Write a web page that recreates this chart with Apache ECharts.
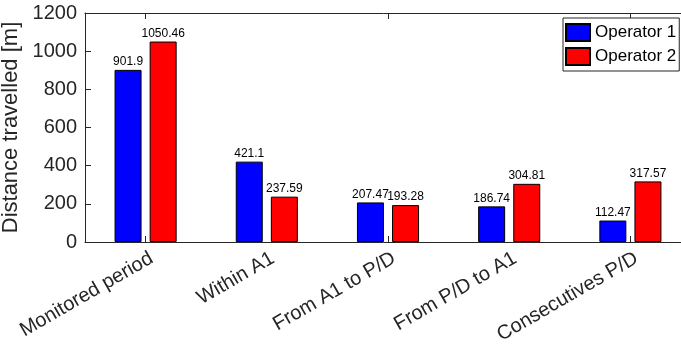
<!DOCTYPE html>
<html>
<head>
<meta charset="utf-8">
<script src="https://cdn.jsdelivr.net/npm/echarts@6/dist/echarts.min.js"></script>
<style>
html,body{margin:0;padding:0;background:#fff;}
#c{width:681px;height:347px;}
</style>
</head>
<body>
<div id="c"></div>
<script>
const categories = ['Monitored period', 'Within A1', 'From A1 to P/D', 'From P/D to A1', 'Consecutives P/D'];
const operator1 = [901.9, 421.1, 207.47, 186.74, 112.47];
const operator2 = [1050.46, 237.59, 193.28, 304.81, 317.57];
const seriesNames = ['Operator 1', 'Operator 2'];
const yTicks = { min: 0, max: 1200, interval: 200 };
const yTitle = 'Distance travelled [m]';

const FONT = 'Liberation Sans, Arial, Helvetica, sans-serif';
const AX = '#262626';

const chart = echarts.init(document.getElementById('c'), null, { renderer: 'canvas' });
chart.setOption({
  animation: false,
  backgroundColor: '#fff',
  textStyle: { fontFamily: FONT },
  grid: [
    { left: 85, top: 13, width: 606, height: 229, containLabel: false, outerBoundsMode: 'none' },
    { left: 91, top: 13, width: 606, height: 229, containLabel: false, outerBoundsMode: 'none' }
  ],
  legend: {
    data: seriesNames,
    orient: 'vertical',
    left: 563, top: 18,
    itemWidth: 24, itemHeight: 17, itemGap: 5,
    padding: [5, 3, 5, 2],
    borderColor: AX, borderWidth: 1,
    backgroundColor: '#fff',
    icon: 'rect',
    textStyle: { fontSize: 17, color: '#000', fontFamily: FONT }
  },
  xAxis: [
    {
      type: 'category', data: categories, gridIndex: 0,
      axisLine: { show: true, lineStyle: { color: AX, width: 1 } },
      axisTick: { show: true, inside: true, length: 6, alignWithLabel: true, lineStyle: { color: AX } },
      axisLabel: { show: false },
      splitLine: { show: false }
    },
    {
      type: 'category', data: categories, gridIndex: 1,
      axisLine: { show: false },
      axisTick: { show: false },
      axisLabel: { show: true, rotate: 30, margin: 15, interval: 0, fontSize: 20, color: AX, fontFamily: FONT, hideOverlap: false },
      splitLine: { show: false }
    },
    {
      type: 'category', data: categories, gridIndex: 0, position: 'top',
      axisLine: { show: true, lineStyle: { color: AX, width: 1 } },
      axisTick: { show: true, inside: true, length: 6, alignWithLabel: true, lineStyle: { color: AX } },
      axisLabel: { show: false },
      splitLine: { show: false }
    }
  ],
  yAxis: [
    {
      type: 'value', gridIndex: 0,
      min: yTicks.min, max: yTicks.max, interval: yTicks.interval,
      name: yTitle, nameLocation: 'middle', nameGap: 50, nameRotate: 90,
      nameTextStyle: { fontSize: 22, color: AX, fontFamily: FONT },
      axisLine: { show: true, lineStyle: { color: AX, width: 1 } },
      axisTick: { show: true, inside: true, length: 6, lineStyle: { color: AX } },
      axisLabel: { fontSize: 20, color: AX, margin: 8, fontFamily: FONT, formatter: function (v) { return String(v); } },
      splitLine: { show: false }
    },
    {
      type: 'value', gridIndex: 1, min: 0, max: 1, show: false
    }
  ],
  series: [
    {
      name: seriesNames[0], type: 'bar', data: operator1,
      xAxisIndex: 0, yAxisIndex: 0,
      barWidth: 27, barGap: '30%',
      itemStyle: { color: '#0000ff', borderColor: '#000', borderWidth: 1 },
      label: { show: true, position: 'top', distance: 2, fontSize: 12, color: '#000', fontFamily: FONT }
    },
    {
      name: seriesNames[1], type: 'bar', data: operator2,
      xAxisIndex: 0, yAxisIndex: 0,
      barWidth: 27, barGap: '30%',
      itemStyle: { color: '#ff0000', borderColor: '#000', borderWidth: 1 },
      label: { show: true, position: 'top', distance: 2, fontSize: 12, color: '#000', fontFamily: FONT }
    }
  ]
});
</script>
</body>
</html>
